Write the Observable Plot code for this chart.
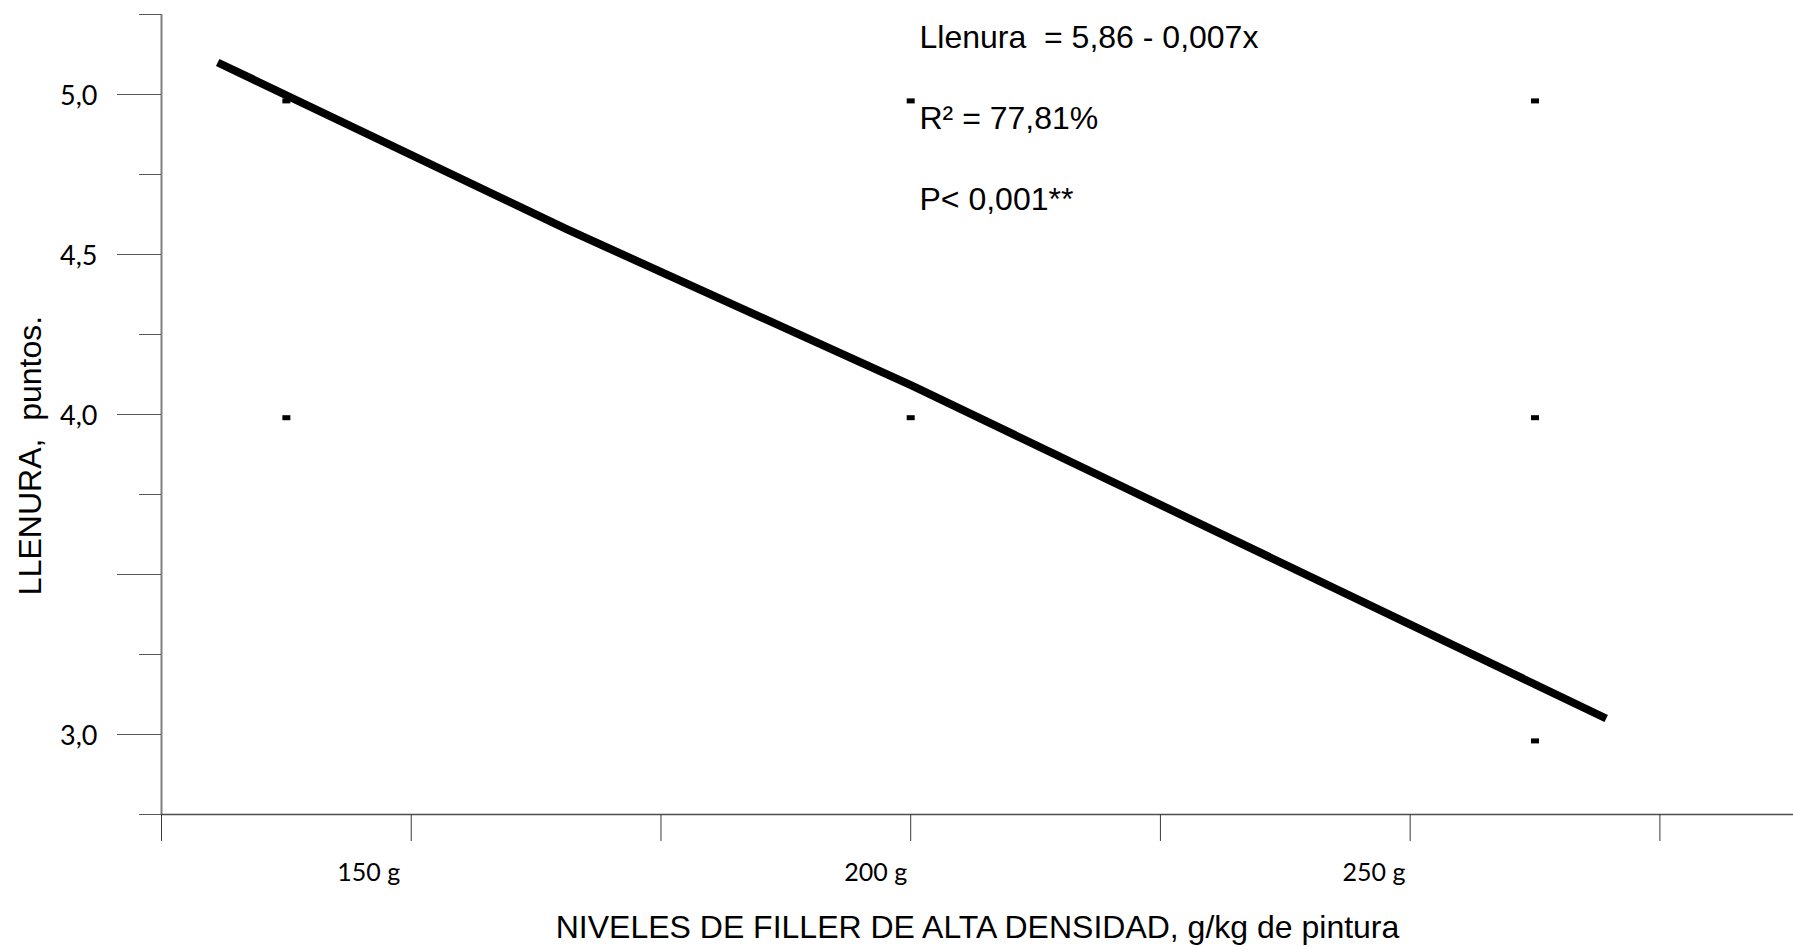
<!DOCTYPE html>
<html>
<head>
<meta charset="utf-8">
<script src="https://cdn.jsdelivr.net/npm/d3@7"></script>
<script src="https://cdn.jsdelivr.net/npm/@observablehq/plot@0.6"></script>
<style>
  html, body { margin: 0; padding: 0; background: #ffffff; overflow: hidden; }
</style>
</head>
<body>
<div id="chart"></div>
<script>
// Observed fullness scores (dash markers) by filler level, g
const levels = [150, 150, 200, 200, 250, 250, 250];
const scores = [4.98, 3.99, 4.98, 3.99, 4.98, 3.99, 2.98];

// Fitted trend line vertices
const fitX = [144.5, 172.4, 200.1, 255.7];
const fitY = [5.10, 4.58, 4.09, 3.05];

// Axis ticks
const xTicks = [140, 160, 180, 200, 220, 240, 260];
const yMajorTicks = [3.0, 3.5, 4.0, 4.5, 5.0];
const yMinorTicks = [2.75, 3.25, 3.75, 4.25, 4.75, 5.25];
const yLabelTicks = [3.0, 4.0, 4.5, 5.0];

// Level labels under the axis and where they sit on the x scale
const xLabels = ["150 g", "200 g", "250 g"];
const xLabelAt = [156.6, 197.2, 237.1];

// Regression summary
const stats = ["Llenura  = 5,86 - 0,007x", "R² = 77,81%", "P< 0,001**"];

const xTitle = "NIVELES DE FILLER DE ALTA DENSIDAD, g/kg de pintura";
const yTitle = "LLENURA,  puntos.";

const dash = {
  draw(context) {
    context.rect(-4, -2.5, 8, 5);
  }
};

const comma = d => d.toFixed(1).replace(".", ",");

const chart = Plot.plot({
  width: 1793,
  height: 947,
  marginLeft: 161,
  marginRight: 0,
  marginTop: 14,
  marginBottom: 133,
  style: { fontFamily: "'Liberation Sans', Arial, sans-serif", background: "#ffffff", color: "#000" },
  x: { domain: [140, 270.7] },
  y: { domain: [2.75, 5.25] },
  marks: [
    // axis lines
    Plot.ruleX([140], { stroke: "#7f7f7f", strokeWidth: 2 }),
    Plot.ruleY([2.75], { stroke: "#4d4d4d", strokeWidth: 1.5 }),
    // y ticks
    Plot.axisY({ ticks: yMajorTicks, tickSize: 44, tickFormat: () => "", stroke: "#595959", strokeOpacity: 1, label: null }),
    Plot.axisY({ ticks: yMinorTicks, tickSize: 22, tickFormat: () => "", stroke: "#595959", strokeOpacity: 1, label: null }),
    Plot.axisY({ ticks: yLabelTicks, tickSize: 0, tickPadding: 64, tickFormat: comma, fontSize: 27, fontFamily: "Lato, 'Open Sans', sans-serif", fill: "#000", dy: 2, label: null }),
    // x ticks
    Plot.axisX({ ticks: xTicks, tickSize: 27, tickFormat: () => "", stroke: "#3a3a3a", strokeOpacity: 1, label: null }),
    // x level labels
    Plot.text(xLabels, {
      x: (d, i) => xLabelAt[i],
      frameAnchor: "bottom",
      text: d => d,
      dy: 66,
      lineAnchor: "bottom",
      fontSize: 25,
      fontFamily: "Lato, 'Open Sans', sans-serif",
      fill: "#000"
    }),
    // axis titles
    Plot.text([xTitle], {
      frameAnchor: "bottom",
      dy: 123,
      lineAnchor: "bottom",
      fontSize: 32,
      fill: "#000"
    }),
    Plot.text([yTitle], {
      frameAnchor: "left",
      dx: -121,
      dy: 41,
      rotate: -90,
      textAnchor: "middle",
      lineAnchor: "bottom",
      fontSize: 32,
      fill: "#000"
    }),
    // regression summary
    Plot.text([stats.join("\n")], {
      frameAnchor: "top-left",
      dx: 758,
      dy: -24,
      textAnchor: "start",
      lineAnchor: "top",
      lineHeight: 2.53,
      fontSize: 32,
      fill: "#000"
    }),
    // observed scores
    Plot.dot(levels, {
      x: d => d,
      y: (d, i) => scores[i],
      symbol: dash,
      fill: "#000",
      stroke: "none",
      r: 4
    }),
    // fitted line
    Plot.line(fitX, {
      x: d => d,
      y: (d, i) => fitY[i],
      stroke: "#000",
      strokeWidth: 8,
      strokeLinecap: "butt",
      strokeLinejoin: "round"
    })
  ]
});

document.getElementById("chart").appendChild(chart);
</script>
</body>
</html>
